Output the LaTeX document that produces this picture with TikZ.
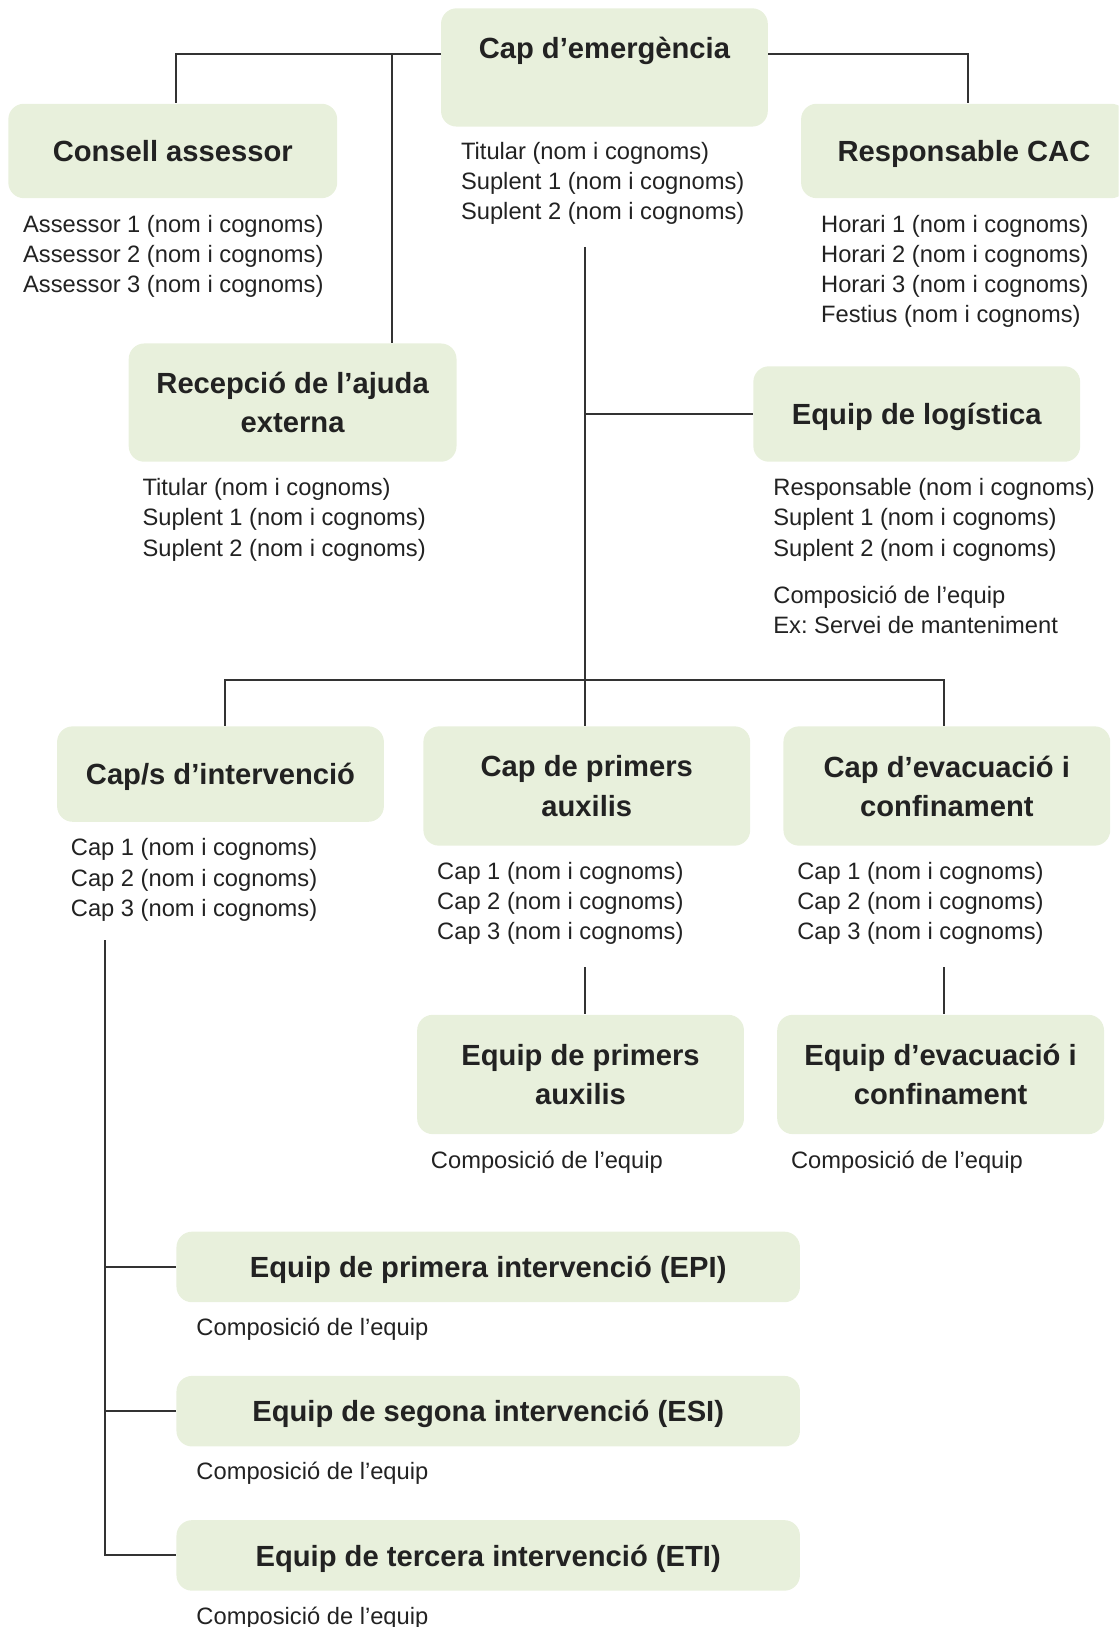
\documentclass[tikz,border=0pt]{standalone}
\usepackage{fontspec}
\setmainfont{Liberation Sans}
\usetikzlibrary{calc}
\definecolor{boxfill}{HTML}{E8F0DC}
\definecolor{ink}{HTML}{222222}
\definecolor{wire}{HTML}{333333}
\frenchspacing
\begin{document}
\begin{tikzpicture}[x=0.02cm,y=-0.02cm,
  box/.style={fill=boxfill, rounded corners=0.3cm, inner sep=0pt, align=center, text=ink,
    font=\fontsize{16}{21.6}\selectfont\bfseries, minimum width=6.3cm, text depth=0pt},
  txt/.style={anchor=north west, inner sep=0pt, align=left, text=ink,
    font=\fontsize{13}{16.5}\selectfont},
  conn/.style={draw=wire, line width=1.1pt}]
\useasboundingbox (0,0) rectangle (1078,1568);
\clip (0,0) rectangle (1078,1568);

% boxes
\node[box, minimum height=2.28cm] (emerg) at (582.5,65) {Cap d’emergència\\\mbox{}};
\node[box, minimum width=6.34cm, minimum height=1.82cm] (consell) at (166.5,145.5) {Consell assessor};
\node[box, minimum width=6.28cm, minimum height=1.82cm] (cac) at (929,145.5) {Responsable CAC};
\node[box, minimum width=6.32cm, minimum height=2.28cm] (recep) at (282,388) {Recepció de l’ajuda\\externa};
\node[box, minimum height=1.84cm] (logis) at (883.5,399) {Equip de logística};
\node[box, minimum height=1.84cm] (capint) at (212.5,746) {Cap/s d’intervenció};
\node[box, minimum height=2.3cm] (primers) at (565.5,757.5) {Cap de primers\\auxilis};
\node[box, minimum height=2.3cm] (evac) at (912.5,757.5) {Cap d’evacuació i\\confinament};
\node[box, minimum height=2.3cm] (eqpa) at (559.5,1035.5) {Equip de primers\\auxilis};
\node[box, minimum height=2.3cm] (eqev) at (906.5,1035.5) {Equip d’evacuació i\\confinament};
\node[box, minimum width=12.02cm, minimum height=1.36cm] (epi) at (470.5,1221) {Equip de primera intervenció (EPI)};
\node[box, minimum width=12.02cm, minimum height=1.36cm] (esi) at (470.5,1360) {Equip de segona intervenció (ESI)};
\node[box, minimum width=12.02cm, minimum height=1.36cm] (eti) at (470.5,1499) {Equip de tercera intervenció (ETI)};

% texts
\node[txt] (temerg) at (444,137) {Titular (nom i cognoms)\\Suplent 1 (nom i cognoms)\\Suplent 2 (nom i cognoms)};
\node[txt] (tconsell) at (22,207) {Assessor 1 (nom i cognoms)\\Assessor 2 (nom i cognoms)\\Assessor 3 (nom i cognoms)};
\node[txt] (tcac) at (791,207) {Horari 1 (nom i cognoms)\\Horari 2 (nom i cognoms)\\Horari 3 (nom i cognoms)\\Festius (nom i cognoms)};
\node[txt] (trecep) at (137,461) {Titular (nom i cognoms)\\Suplent 1 (nom i cognoms)\\Suplent 2 (nom i cognoms)};
\node[txt] (tlogis) at (745,461) {Responsable (nom i cognoms)\\Suplent 1 (nom i cognoms)\\Suplent 2 (nom i cognoms)};
\node[txt] (tlogis2) at (745,564) {Composició de l’equip\\Ex: Servei de manteniment};
\node[txt] (tcapint) at (68,808) {Cap 1 (nom i cognoms)\\Cap 2 (nom i cognoms)\\Cap 3 (nom i cognoms)};
\node[txt] (tprimers) at (421,831) {Cap 1 (nom i cognoms)\\Cap 2 (nom i cognoms)\\Cap 3 (nom i cognoms)};
\node[txt] (tevac) at (768,831) {Cap 1 (nom i cognoms)\\Cap 2 (nom i cognoms)\\Cap 3 (nom i cognoms)};
\node[txt] (teqpa) at (415,1109) {Composició de l’equip};
\node[txt] (teqev) at (762,1109) {Composició de l’equip};
\node[txt] (tepi) at (189,1270) {Composició de l’equip};
\node[txt] (tesi) at (189,1409) {Composició de l’equip};
\node[txt] (teti) at (189,1548) {Composició de l’equip};

% junction points
\coordinate (jr) at (378,52);
\coordinate (top) at (564,238);
\coordinate (hb) at (564,655);
\coordinate (pa) at (564,932);
\coordinate (ev) at (910,932);
\coordinate (ci) at (101,906);

% connectors
\draw[conn] ([yshift=0.26cm]emerg.west) -| ([xshift=0.07cm]consell.north);
\draw[conn] (jr) -- (jr |- recep.north);
\draw[conn] ([yshift=0.26cm]emerg.east) -| ([xshift=0.08cm]cac.north);
\draw[conn] (top) -- (top |- primers.north);
\draw[conn] (top |- logis.west) -- (logis.west);
\draw[conn] ([xshift=0.09cm]capint.north) |- (hb) -| ([xshift=-0.05cm]evac.north);
\draw[conn] (pa) -- (pa |- eqpa.north);
\draw[conn] (ev) -- (ev |- eqev.north);
\draw[conn] (ci) |- (eti.west);
\draw[conn] (ci |- epi.west) -- (epi.west);
\draw[conn] (ci |- esi.west) -- (esi.west);
\end{tikzpicture}
\end{document}
